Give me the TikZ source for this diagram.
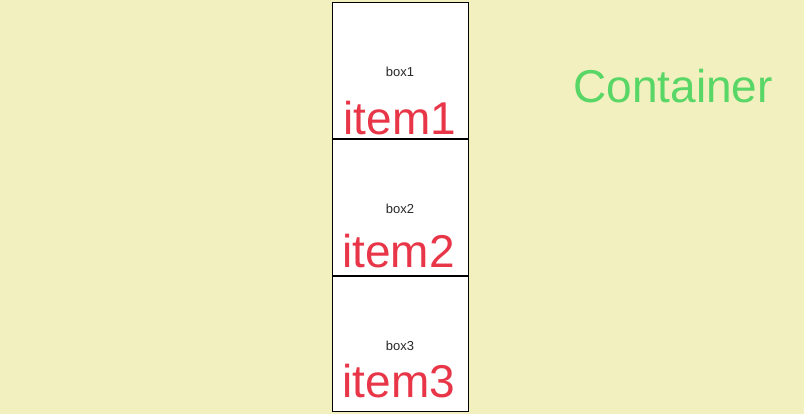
\documentclass[tikz,border=0pt]{standalone}
\usepackage{fontspec}
\setmainfont{Liberation Sans}
\definecolor{bgc}{RGB}{242,240,190}
\definecolor{itemred}{RGB}{232,54,72}
\definecolor{contgreen}{RGB}{88,214,102}
\definecolor{smalltext}{RGB}{40,40,40}
\begin{document}
\begin{tikzpicture}[x=1pt,y=-1pt,
  boxnode/.style={draw=black,line width=1pt,fill=white,minimum width=136pt,inner sep=0pt,outer sep=0pt},
  smalllabel/.style={font=\fontsize{13}{15}\selectfont,text=smalltext,anchor=base,inner sep=0pt},
  itemlabel/.style={font=\fontsize{46}{50}\selectfont,text=itemred,anchor=base,inner sep=0pt},
  contlabel/.style={font=\fontsize{46}{50}\selectfont,text=contgreen,anchor=base,inner sep=0pt}]
\fill[bgc] (0,0) rectangle (804,414);
\useasboundingbox (0,0) rectangle (804,414);
\node[boxnode,minimum height=136pt] (b1) at (400,70.5) {};
\node[boxnode,minimum height=136pt] (b2) at (400,207.5) {};
\node[boxnode,minimum height=135pt] (b3) at (400,344) {};
\node[smalllabel] (t1) at (400,77) {box1};
\node[smalllabel] (t2) at (400,214) {box2};
\node[smalllabel] (t3) at (400,351) {box3};
\node[itemlabel] (i1) at (400,135) {item1};
\node[itemlabel] (i2) at (398.5,267.5) {item2};
\node[itemlabel] (i3) at (399,397) {item3};
\node[contlabel] (c) at (673,103) {Container};
\end{tikzpicture}
\end{document}
